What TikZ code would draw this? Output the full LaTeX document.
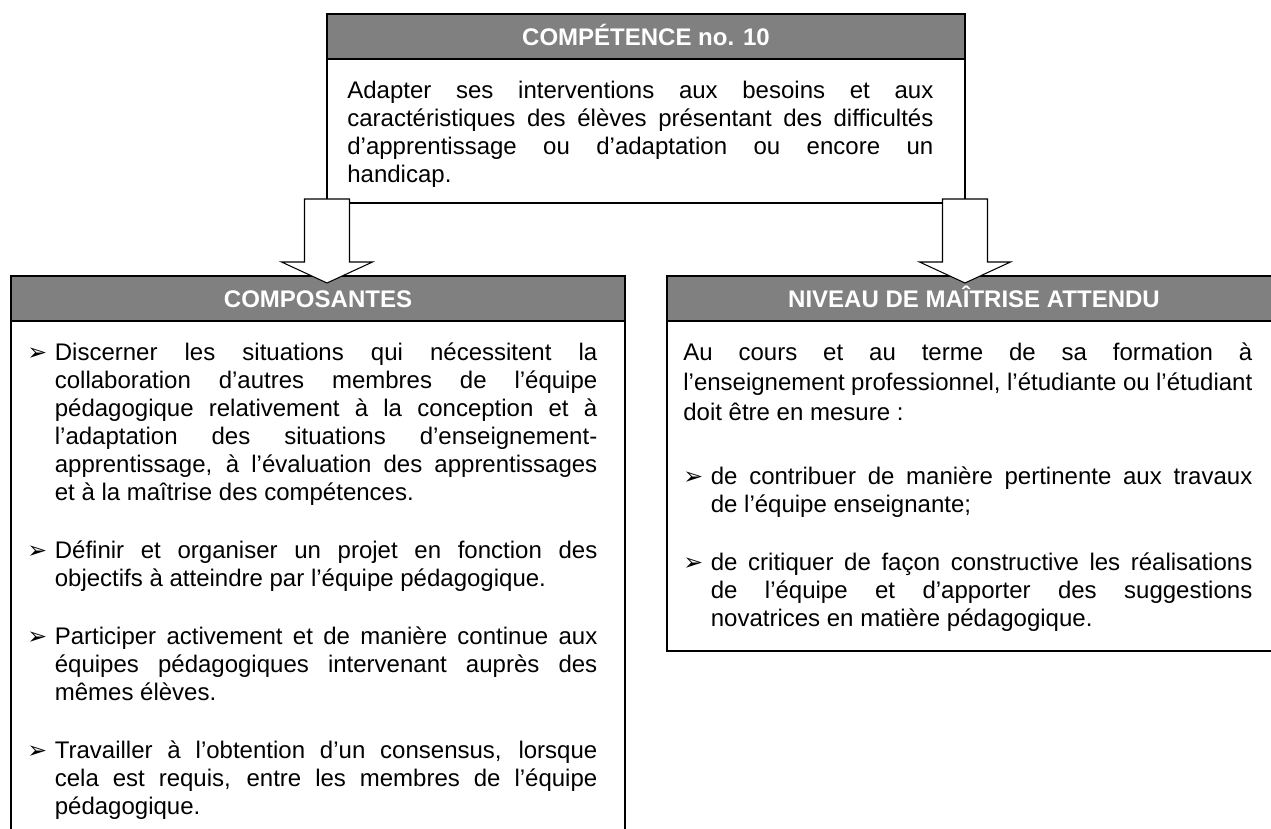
\documentclass[tikz,border=0pt]{standalone}
\usepackage{fontspec}
\usepackage{xcolor}
\setmainfont{Liberation Sans}
\newfontfamily\dingfont{DejaVu Sans}
\usetikzlibrary{positioning,calc}

\definecolor{bandgray}{RGB}{128,128,128}

% puce a retrait suspendu
\newcommand{\puce}[1]{\hangindent=0.55cm\hangafter=1\noindent\strut\makebox[0.55cm][l]{\dingfont\fontsize{13.5pt}{14pt}\selectfont ➢}#1\par}

\tikzset{
    % Define box styles
    cadre/.style={
        rectangle, draw=black, line width=0.9pt, fill=white,
        inner sep=0pt, outer sep=0pt, anchor=north west
    },
    bandeau/.style={
        rectangle, draw=black, line width=0.9pt, fill=bandgray,
        text=white, inner sep=0pt, outer sep=0pt, anchor=north west,
        text height=9.8pt, text depth=0pt,
        font=\bfseries\fontsize{13.66pt}{16pt}\selectfont
    },
    corps/.style={
        text width=#1, align=justify, inner sep=0pt, anchor=north west,
        font=\fontsize{13.66pt}{15.94pt}\selectfont
    },
    fleche/.style={
        draw=black, line width=0.6pt, fill=white, line join=miter
    }
}

\begin{document}
\begin{tikzpicture}
\tolerance=10000 \hbadness=10000
\useasboundingbox (0,0) rectangle (25.42,16.56);

% Competence box
\node[cadre, minimum width=12.76cm, minimum height=3.78cm] (competence) at (6.54,16.28) {};
\node[bandeau, minimum width=12.76cm, minimum height=0.9cm] (titre) at (competence.north west) {COMPÉTENCE no. 10};
\node[corps=11.72cm] (enonce) at (6.94,14.99) {\strut Adapter ses interventions aux besoins et aux\linebreak
    caractéristiques des élèves présentant des difficultés\linebreak
    d’apprentissage ou d’adaptation ou encore un\linebreak
    handicap.};

% Composantes box
\node[cadre, minimum width=12.28cm, minimum height=11.34cm] (composantes) at (0.22,11.04) {};
\node[bandeau, minimum width=12.28cm, minimum height=0.9cm] (titrecomp) at (composantes.north west) {COMPOSANTES};
\node[corps=11.4cm] (listecomp) at (0.54,9.75) {\setlength{\parskip}{0.6cm}%
    \puce{Discerner les situations qui nécessitent la\linebreak
    collaboration d’autres membres de l’équipe\linebreak
    pédagogique relativement à la conception et à\linebreak
    l’adaptation des situations d’enseignement-\linebreak
    apprentissage, à l’évaluation des apprentissages\linebreak
    et à la maîtrise des compétences.}
    \puce{Définir et organiser un projet en fonction des\linebreak
    objectifs à atteindre par l’équipe pédagogique.}
    \puce{Participer activement et de manière continue aux\linebreak
    équipes pédagogiques intervenant auprès des\linebreak
    mêmes élèves.}
    \puce{Travailler à l’obtention d’un consensus, lorsque\linebreak
    cela est requis, entre les membres de l’équipe\linebreak
    pédagogique.}};

% Niveau de maitrise box
\node[cadre, minimum width=12.28cm, minimum height=7.5cm] (niveau) at (13.34,11.04) {};
\node[bandeau, minimum width=12.28cm, minimum height=0.9cm] (titreniv) at (niveau.north west) {NIVEAU DE MAÎTRISE ATTENDU};
\node[corps=11.38cm] (attentes) at (13.66,9.75) {\setlength{\parskip}{0.6cm}%
    {\baselineskip=17pt
    \noindent\strut Au cours et au terme de sa formation à\linebreak
    l’enseignement professionnel, l’étudiante ou l’étudiant\linebreak
    doit être en mesure :\par}
    \vspace{0.12cm}
    \puce{de contribuer de manière pertinente aux travaux\linebreak
    de l’équipe enseignante;}
    \puce{de critiquer de façon constructive les réalisations\linebreak
    de l’équipe et d’apporter des suggestions\linebreak
    novatrices en matière pédagogique.}};

% Block arrows
\coordinate (queueG) at ($(competence.south west)+(0,0.08)$);
\coordinate (queueD) at ($(competence.south east)+(0,0.08)$);
\draw[fleche] (queueG) ++(-0.45,0) -- ++(0.9,0) -- ++(0,-1.26) -- ++(0.46,0)
    -- ++(-0.91,-0.42) -- ++(-0.91,0.42) -- ++(0.46,0) -- cycle;
\draw[fleche] (queueD) ++(-0.45,0) -- ++(0.9,0) -- ++(0,-1.26) -- ++(0.46,0)
    -- ++(-0.91,-0.42) -- ++(-0.91,0.42) -- ++(0.46,0) -- cycle;

\end{tikzpicture}
\end{document}
